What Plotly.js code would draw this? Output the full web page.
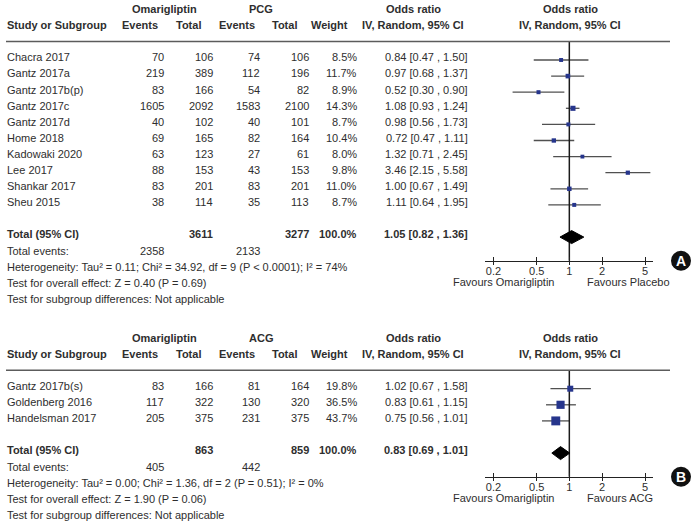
<!DOCTYPE html>
<html><head><meta charset="utf-8">
<script src="https://cdn.plot.ly/plotly-3.0.1.min.js"></script>
<style>html,body{margin:0;padding:0;background:#fff}</style>
</head><body><div id="chart" style="width:694px;height:523px"></div>
<script>
// ---------- Panel A data (Omarigliptin vs PCG) ----------
const studiesA   = ['Chacra 2017','Gantz 2017a','Gantz 2017b(p)','Gantz 2017c','Gantz 2017d','Home 2018','Kadowaki 2020','Lee 2017','Shankar 2017','Sheu 2015'];
const omaEventsA = [70, 219, 83, 1605, 40, 69, 63, 88, 83, 38];
const omaTotalA  = [106, 389, 166, 2092, 102, 165, 123, 153, 201, 114];
const ctlEventsA = [74, 112, 54, 1583, 40, 82, 27, 43, 83, 35];
const ctlTotalA  = [106, 196, 82, 2100, 101, 164, 61, 153, 201, 113];
const weightA    = [8.5, 11.7, 8.9, 14.3, 8.7, 10.4, 8.0, 9.8, 11.0, 8.7];
const orA        = [0.84, 0.97, 0.52, 1.08, 0.98, 0.72, 1.32, 3.46, 1.00, 1.11];
const loA        = [0.47, 0.68, 0.30, 0.93, 0.56, 0.47, 0.71, 2.15, 0.67, 0.64];
const hiA        = [1.50, 1.37, 0.90, 1.24, 1.73, 1.11, 2.45, 5.58, 1.49, 1.95];
const totalA     = {oma: 3611, ctl: 3277, omaEv: 2358, ctlEv: 2133, or: 1.05, lo: 0.82, hi: 1.36};
const hetA       = 'Heterogeneity: Tau² = 0.11; Chi² = 34.92, df = 9 (P < 0.0001); I² = 74%';
const effA       = 'Test for overall effect: Z = 0.40 (P = 0.69)';

// ---------- Panel B data (Omarigliptin vs ACG) ----------
const studiesB   = ['Gantz 2017b(s)','Goldenberg 2016','Handelsman 2017'];
const omaEventsB = [83, 117, 205];
const omaTotalB  = [166, 322, 375];
const ctlEventsB = [81, 130, 231];
const ctlTotalB  = [164, 320, 375];
const weightB    = [19.8, 36.5, 43.7];
const orB        = [1.02, 0.83, 0.75];
const loB        = [0.67, 0.61, 0.56];
const hiB        = [1.58, 1.15, 1.01];
const totalB     = {oma: 863, ctl: 859, omaEv: 405, ctlEv: 442, or: 0.83, lo: 0.69, hi: 1.01};
const hetB       = 'Heterogeneity: Tau² = 0.00; Chi² = 1.36, df = 2 (P = 0.51); I² = 0%';
const effB       = 'Test for overall effect: Z = 1.90 (P = 0.06)';

const tickVals   = [0.2, 0.5, 1, 2, 5];
const tickLabels = ['0.2', '0.5', '1', '2', '5'];

// ---------- styling ----------
const W = 694, H = 523;
const FONT = 'Liberation Sans, Arial, Helvetica, sans-serif';
const TXT = '#2e2e2e';
const NAVY = '#26358c';
const STEP = 16.1;
const LOGRANGE = [-0.777, 0.771];
const DOMAIN = [485/W, 653/W];

const annotations = [];
const shapes = [];
const traces = [];

function txt(x, y, s, anchor, opt) {
  opt = opt || {};
  annotations.push({xref:'x', yref:'y', x:x, y:y, text:s, xanchor:anchor, yanchor:'middle',
    showarrow:false, borderpad:0, borderwidth:0,
    font:{family:FONT, size:opt.size||11, color:opt.color||TXT}});
}
const f2 = v => v.toFixed(2);
const ci = (o,l,h) => f2(o) + ' [' + f2(l) + ' , ' + f2(h) + ']';

function panel(p) {
  const base = p.base;
  const n = p.studies.length;
  const rowY = k => base + k*STEP;
  const y1 = base - 48.3, y2 = base - 32.3, rule = base - 15.8;
  // headers
  txt(164, y1, '<b>Omarigliptin</b>', 'center');
  txt(260.5, y1, '<b>' + p.ctlName + '</b>', 'center');
  txt(413, y1, '<b>Odds ratio</b>', 'center');
  txt(570, y1, '<b>Odds ratio</b>', 'center');
  txt(6.5, y2, '<b>Study or Subgroup</b>', 'left');
  txt(139.5, y2, '<b>Events</b>', 'center');
  txt(188.7, y2, '<b>Total</b>', 'center');
  txt(236.7, y2, '<b>Events</b>', 'center');
  txt(284, y2, '<b>Total</b>', 'center');
  txt(329, y2, '<b>Weight</b>', 'center');
  txt(413, y2, '<b>IV, Random, 95% CI</b>', 'center');
  txt(570, y2, '<b>IV, Random, 95% CI</b>', 'center');
  shapes.push({type:'line', xref:'x', yref:'y', x0:6, x1:670, y0:rule, y1:rule, line:{color:'#5c5c5c', width:1.6}});
  // study rows
  for (let k = 0; k < n; k++) {
    const y = rowY(k);
    txt(6.5, y, p.studies[k], 'left');
    txt(164, y, String(p.omaEv[k]), 'right');
    txt(212.5, y, String(p.omaTot[k]), 'right');
    txt(260, y, String(p.ctlEv[k]), 'right');
    txt(308.5, y, String(p.ctlTot[k]), 'right');
    txt(357, y, p.w[k].toFixed(1) + '%', 'right');
    txt(468, y, ci(p.or[k], p.lo[k], p.hi[k]), 'right');
  }
  const ty = rowY(n + 1);
  const t = p.total;
  txt(6.5, ty, '<b>Total (95% CI)</b>', 'left');
  txt(212.5, ty, '<b>' + t.oma + '</b>', 'right');
  txt(308.5, ty, '<b>' + t.ctl + '</b>', 'right');
  txt(357, ty, '<b>100.0%</b>', 'right');
  txt(468, ty, '<b>' + ci(t.or, t.lo, t.hi) + '</b>', 'right');
  txt(6.5, rowY(n + 2), 'Total events:', 'left');
  txt(164, rowY(n + 2), String(t.omaEv), 'right');
  txt(260, rowY(n + 2), String(t.ctlEv), 'right');
  txt(6.5, rowY(n + 3), p.het, 'left');
  txt(6.5, rowY(n + 4), p.eff, 'left');
  txt(6.5, rowY(n + 5), 'Test for subgroup differences: Not applicable', 'left');

  const axisY = ty + 26.3;
  const favY = ty + 47.9;
  txt(553.5, favY, 'Favours Omarigliptin', 'right');
  txt(586.5, favY, 'Favours ' + p.favName, 'left');

  // forest traces
  const off = 2.7;
  const lx = [], ly = [];
  for (let k = 0; k < n; k++) { lx.push(p.lo[k], p.hi[k], null); ly.push(rowY(k)+off, rowY(k)+off, null); }
  traces.push({type:'scatter', mode:'lines', x:lx, y:ly, xaxis:p.xa, yaxis:'y',
    line:{color:'#505050', width:1.3}, hoverinfo:'skip', showlegend:false, cliponaxis:false});
  traces.push({type:'scatter', mode:'lines', x:[1,1], y:[rule, axisY], xaxis:p.xa, yaxis:'y',
    line:{color:'#1a1a1a', width:1.5}, hoverinfo:'skip', showlegend:false, cliponaxis:false});
  traces.push({type:'scatter', mode:'markers', x:p.or, y:p.studies.map((s,k)=>rowY(k)+off), xaxis:p.xa, yaxis:'y',
    marker:{symbol:'square', color:NAVY, opacity:1, size:p.w.map(v=>1.35*Math.sqrt(v)), line:{width:0}},
    hoverinfo:'skip', showlegend:false, cliponaxis:false});
  const dy = ty + off;
  traces.push({type:'scatter', mode:'lines', fill:'toself', fillcolor:'#000000',
    x:[t.lo, t.or, t.hi, t.or, t.lo], y:[dy, dy-6.5, dy, dy+6.5, dy], xaxis:p.xa, yaxis:'y',
    line:{color:'#000000', width:1}, hoverinfo:'skip', showlegend:false, cliponaxis:false});
  traces.push({type:'scatter', mode:'markers', x:[1], y:[-999], xaxis:p.xb, yaxis:'y',
    marker:{opacity:0}, hoverinfo:'skip', showlegend:false});

  // badge
  shapes.push({type:'circle', xref:'x', yref:'y', x0:671, x1:691, y0:axisY-10, y1:axisY+10,
    fillcolor:'#111111', line:{width:0}});
  txt(681, axisY, '<b>' + p.badge + '</b>', 'center', {size:14, color:'#ffffff'});
  return axisY;
}

const axisA = panel({base:57.3, studies:studiesA, omaEv:omaEventsA, omaTot:omaTotalA, ctlEv:ctlEventsA, ctlTot:ctlTotalA,
  w:weightA, or:orA, lo:loA, hi:hiA, total:totalA, het:hetA, eff:effA, ctlName:'PCG', favName:'Placebo', badge:'A', xa:'x2', xb:'x3'});
const axisB = panel({base:386, studies:studiesB, omaEv:omaEventsB, omaTot:omaTotalB, ctlEv:ctlEventsB, ctlTot:ctlTotalB,
  w:weightB, or:orB, lo:loB, hi:hiB, total:totalB, het:hetB, eff:effB, ctlName:'ACG', favName:'ACG', badge:'B', xa:'x4', xb:'x5'});

// dummy on pixel axes
traces.push({type:'scatter', mode:'markers', x:[0], y:[-999], xaxis:'x', yaxis:'y', marker:{opacity:0}, hoverinfo:'skip', showlegend:false});

function forestAxis(pos, labels, ticks, len, overlay) {
  const a = {type:'log', range:LOGRANGE, domain:DOMAIN, anchor:'free', position:pos, side:'bottom',
    showgrid:false, zeroline:false, fixedrange:true,
    tickmode:'array', tickvals:tickVals, ticktext:tickLabels,
    ticks:ticks, ticklen:len, tickwidth:1, tickcolor:'#222222',
    showticklabels:labels, tickfont:{family:FONT, size:11, color:TXT},
    showline:labels, linecolor:'#222222', linewidth:1};
  if (overlay) a.overlaying = overlay;
  return a;
}

const layout = {
  width:W, height:H, margin:{l:0, r:0, t:0, b:0, pad:0},
  paper_bgcolor:'#ffffff', plot_bgcolor:'rgba(0,0,0,0)', showlegend:false,
  xaxis:{range:[0, W], domain:[0,1], visible:false, fixedrange:true},
  yaxis:{range:[H, 0], domain:[0,1], visible:false, fixedrange:true},
  xaxis2: forestAxis(1 - axisA/H, true, 'inside', 4, null),
  xaxis3: forestAxis(1 - axisA/H, false, 'outside', 3, 'x2'),
  xaxis4: forestAxis(1 - axisB/H, true, 'inside', 4, 'x2'),
  xaxis5: forestAxis(1 - axisB/H, false, 'outside', 3, 'x2'),
  annotations: annotations,
  shapes: shapes
};

Plotly.newPlot('chart', traces, layout, {staticPlot:true, displayModeBar:false});
</script></body></html>
